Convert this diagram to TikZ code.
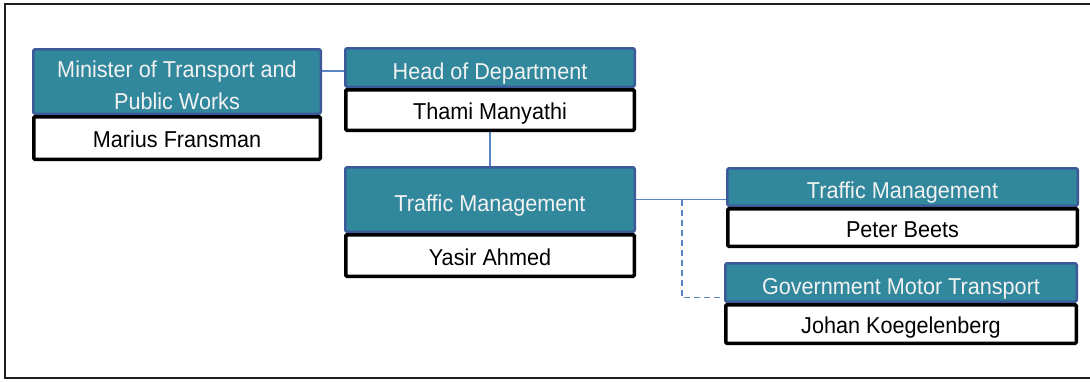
\documentclass[tikz,border=0pt]{standalone}
\usepackage{fontspec}
\setmainfont{Liberation Sans}[FakeStretch=0.94]
\usetikzlibrary{backgrounds}
\definecolor{tealfill}{HTML}{31879C}
\definecolor{tealedge}{HTML}{3C5A9A}
\definecolor{linkblue}{HTML}{5B86C5}
\definecolor{titletext}{HTML}{F2F2F2}
\definecolor{framegray}{HTML}{1E1E1E}
\tikzset{
  titlebox/.style={draw=tealedge, fill=tealfill, line width=2.5pt, rounded corners=2pt,
    inner sep=0pt, text=titletext, align=center, text height=23pt, text depth=0pt,
    font=\fontsize{23}{32}\selectfont},
  namebox/.style={draw=black, fill=white, line width=3.5pt, rounded corners=1pt,
    inner sep=0pt, text=black, text height=19.5pt, text depth=0pt,
    font=\fontsize{23}{32}\selectfont},
  link/.style={draw=linkblue, line width=1.4pt},
  dashlink/.style={draw=linkblue, line width=1.4pt, dash pattern=on 6pt off 4pt},
}
\begin{document}
\begin{tikzpicture}[x=1pt, y=-1pt]
  \useasboundingbox (0,0) rectangle (1090,381);
  % page frame, open on the right
  \draw[framegray, line width=2pt] (1090,4) -- (5,4) -- (5,378) -- (1090,378);

  % Minister
  \node[titlebox, text height=55pt, minimum width=287.5pt, minimum height=64.5pt] (mint) at (177,81.5)
    {Minister of Transport and\\Public Works};
  \node[namebox, minimum width=286.5pt, minimum height=42.5pt] (minn) at (177,138) {Marius Fransman};

  % Head of Department
  \node[titlebox, minimum width=289.5pt, minimum height=38.5pt] (headt) at (490,67.5) {Head of Department};
  \node[namebox, minimum width=288.5pt, minimum height=40.5pt] (headn) at (490,110) {Thami Manyathi};

  % Traffic Management (centre)
  \node[titlebox, minimum width=289.5pt, minimum height=64.5pt] (tmt) at (490,199.5) {Traffic Management};
  \node[namebox, minimum width=288.5pt, minimum height=41.5pt] (tmn) at (490,255.5) {Yasir Ahmed};

  % Traffic Management (right)
  \node[titlebox, minimum width=350.5pt, minimum height=37.5pt] (rtmt) at (902.5,187) {Traffic Management};
  \node[namebox, minimum width=349.5pt, minimum height=37.5pt] (rtmn) at (902.5,227.5) {Peter Beets};

  % Government Motor Transport
  \node[titlebox, minimum width=351.5pt, minimum height=38.5pt] (gmtt) at (901,282.5) {Government Motor Transport};
  \node[namebox, minimum width=350.5pt, minimum height=38.5pt] (gmtn) at (901,324) {Johan Koegelenberg};

  % branch point of the dashed reporting line
  \coordinate (branch) at (682,199.5);

  % connectors, kept behind the boxes
  \begin{pgfonlayer}{background}
    \path[link] ([yshift=-3.5pt]headt.west) -- ([yshift=-3.5pt]headt.west -| mint.east);
    \path[link] (headn.south) -- (tmt.north);
    \path[link] (tmt.east) -- (tmt.east -| rtmt.west);
    \path[dashlink] (branch) |- ([yshift=-15pt]gmtt.west);
  \end{pgfonlayer}
\end{tikzpicture}
\end{document}
